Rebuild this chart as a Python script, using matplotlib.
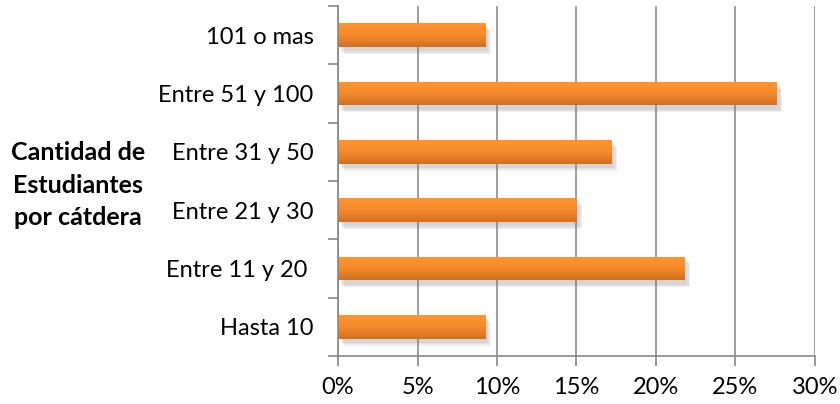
import numpy as np
import matplotlib.pyplot as plt
import matplotlib.patheffects as pe
from matplotlib.colors import LinearSegmentedColormap

categorias = ["Hasta 10", "Entre 11 y 20 ", "Entre 21 y 30", "Entre 31 y 50", "Entre 51 y 100", "101 o mas"]
porcentajes = [9.25, 21.8, 15.0, 17.2, 27.6, 9.25]
x_ticks = [0, 5, 10, 15, 20, 25, 30]

plt.rcParams["font.family"] = ["Lato", "DejaVu Sans"]

fig = plt.figure(figsize=(8.4, 4.04), dpi=100)
ax = fig.add_axes([0.4024, 0.1188, 0.5678, 0.8663])

y = np.arange(len(categorias))
# sombra suave debajo de las barras
sombra = [pe.SimplePatchShadow(offset=(d, -d - 1), shadow_rgbFace="#808080", alpha=0.12)
          for d in (4, 3, 2)]
bars = ax.barh(y, [v / 100 for v in porcentajes], height=0.41, color="#f0852a", zorder=3,
               path_effects=sombra + [pe.Normal()])

# gradiente vertical en cada barra
grad = np.linspace(0, 1, 64).reshape(-1, 1)
cmap = LinearSegmentedColormap.from_list("nar", ["#d2701f", "#f58a2c", "#ff9430"])
for b in bars:
    x0, y0 = b.get_x(), b.get_y()
    w, h = b.get_width(), b.get_height()
    im = ax.imshow(grad, cmap=cmap, aspect="auto", extent=[x0, x0 + w, y0, y0 + h],
                   origin="lower", zorder=4)
    im.set_clip_path(b)

ax.set_xlim(0, 0.30)
ax.set_ylim(-0.5, len(categorias) - 0.5)
ax.set_xticks([t / 100 for t in x_ticks])
ax.set_xticklabels([f"{t}%" for t in x_ticks])
ax.set_yticks(y)
ax.set_yticklabels(categorias)
ax.set_yticks(np.arange(-0.5, len(categorias), 1), minor=True)

ax.grid(axis="x", color="#8c8c8c", linewidth=1.2, zorder=0)
for s in ["top", "right"]:
    ax.spines[s].set_visible(False)
for s in ["left", "bottom"]:
    ax.spines[s].set_color("#868686")
    ax.spines[s].set_linewidth(1.2)
    ax.spines[s].set_zorder(5)

ax.tick_params(axis="y", which="major", length=0, labelsize=17, pad=17.5)
ax.tick_params(axis="y", which="minor", length=7, color="#868686", width=1.2)
ax.tick_params(axis="x", length=7, color="#868686", width=1.2, labelsize=17, pad=8)

fig.text(0.093, 0.542, "Cantidad de\nEstudiantes\npor cátdera", ha="center", va="center",
         fontsize=18, fontweight="bold", linespacing=1.5)

fig.savefig("out.png", dpi=100)
